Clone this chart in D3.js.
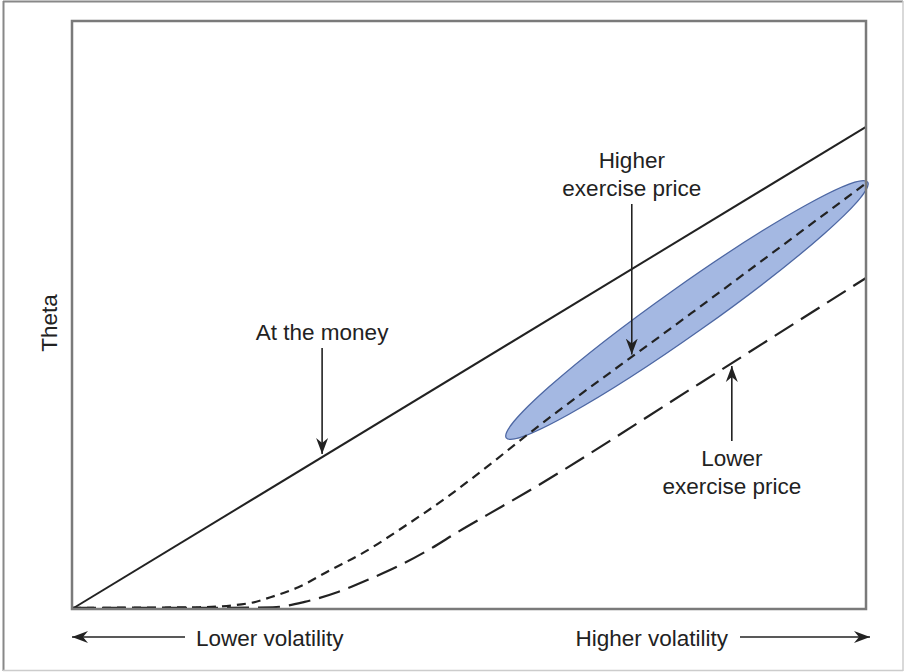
<!DOCTYPE html>
<html>
<head>
<meta charset="utf-8">
<script src="https://cdn.jsdelivr.net/npm/d3@7"></script>
<style>
  body { margin: 0; background: #fff; }
  text { font-family: "Liberation Sans", Arial, sans-serif; fill: #222; }
</style>
</head>
<body>
<div id="chart"></div>
<script>
// Volatility runs 0..100 left to right, theta 0..100 bottom to top (no numeric ticks)
const atmX = [0, 100];
const atmY = [0, 82];

const highX = [0, 16, 22.4, 25, 28.5, 32.5, 36.6, 41.7, 47.2, 53.5, 56, 78, 100];
const highY = [0.2, 0.3, 1.0, 2.0, 3.7, 6.6, 9.5, 13.9, 19.0, 25.5, 28.2, 50.3, 72.4];

const lowX = [0, 18.6, 25.3, 29.3, 33.5, 37.5, 41.4, 45.1, 48.6, 52.3, 57.3, 79.1, 100];
const lowY = [0.2, 0.2, 0.3, 1.2, 2.9, 5.1, 7.5, 10.2, 13.1, 16.0, 19.9, 38.4, 56.3];

// shaded region around the upper part of the higher exercise price curve
const highlightFrom = [54.9, 29.3];
const highlightTo = [100, 72.4];

// label, line it points at, x position of the arrow
const callouts = [
  { lines: ["At the money"], series: "atm", at: 31.5, dir: "down" },
  { lines: ["Higher", "exercise price"], series: "high", at: 70.5, dir: "down" },
  { lines: ["Lower", "exercise price"], series: "low", at: 83.1, dir: "up" }
];

const axisLabelY = "Theta";
const axisLabelsX = ["Lower volatility", "Higher volatility"];

const W = 905, H = 672;
const plot = { left: 72, top: 21, right: 866, bottom: 609 };

const svg = d3.select("#chart").append("svg")
    .attr("width", W)
    .attr("height", H);

// outer frame of the figure
svg.append("line").attr("x1", 3).attr("y1", 1.5).attr("x2", 903).attr("y2", 1.5)
    .attr("stroke", "#888").attr("stroke-width", 2);
svg.append("line").attr("x1", 3.5).attr("y1", 1).attr("x2", 3.5).attr("y2", 671)
    .attr("stroke", "#888").attr("stroke-width", 2);
svg.append("line").attr("x1", 903).attr("y1", 1).attr("x2", 903).attr("y2", 671)
    .attr("stroke", "#ccc").attr("stroke-width", 1.5);
svg.append("line").attr("x1", 3).attr("y1", 670.5).attr("x2", 903).attr("y2", 670.5)
    .attr("stroke", "#ccc").attr("stroke-width", 1.5);

const x = d3.scaleLinear().domain([0, 100]).range([plot.left, plot.right]);
const y = d3.scaleLinear().domain([0, 100]).range([plot.bottom, plot.top]);

const defs = svg.append("defs");
defs.append("marker")
    .attr("id", "head")
    .attr("viewBox", "-16 -7 18 14")
    .attr("refX", 0)
    .attr("refY", 0)
    .attr("markerWidth", 18)
    .attr("markerHeight", 14)
    .attr("markerUnits", "userSpaceOnUse")
    .attr("orient", "auto")
  .append("path")
    .attr("d", "M0,0 L-16,-6 L-11,0 L-16,6 Z")
    .attr("fill", "#222");

const zip = (xs, ys) => xs.map((v, i) => [v, ys[i]]);
const series = {
  atm: zip(atmX, atmY),
  high: zip(highX, highY),
  low: zip(lowX, lowY)
};

const line = d3.line()
    .x(d => x(d[0]))
    .y(d => y(d[1]))
    .curve(d3.curveMonotoneX);

// highlight ellipse
const p1 = [x(highlightFrom[0]), y(highlightFrom[1])];
const p2 = [x(highlightTo[0]), y(highlightTo[1])];
const ang = Math.atan2(p2[1] - p1[1], p2[0] - p1[0]) * 180 / Math.PI;
const half = Math.hypot(p2[0] - p1[0], p2[1] - p1[1]) / 2;
svg.append("ellipse")
    .attr("cx", 0).attr("cy", 0)
    .attr("rx", half + 2)
    .attr("ry", 24)
    .attr("transform", `translate(${(p1[0] + p2[0]) / 2},${(p1[1] + p2[1]) / 2}) rotate(${ang})`)
    .attr("fill", "#a4b8e2")
    .attr("stroke", "#4d67a3")
    .attr("stroke-width", 1.3);

// curves
svg.append("path")
    .datum(series.atm)
    .attr("fill", "none")
    .attr("stroke", "#222")
    .attr("stroke-width", 2)
    .attr("d", line);

svg.append("path")
    .datum(series.high)
    .attr("fill", "none")
    .attr("stroke", "#222")
    .attr("stroke-width", 2.2)
    .attr("stroke-dasharray", "9,6")
    .attr("d", line);

svg.append("path")
    .datum(series.low)
    .attr("fill", "none")
    .attr("stroke", "#222")
    .attr("stroke-width", 2.2)
    .attr("stroke-dasharray", "22,9")
    .attr("d", line);

// plot frame
svg.append("rect")
    .attr("x", plot.left)
    .attr("y", plot.top)
    .attr("width", plot.right - plot.left)
    .attr("height", plot.bottom - plot.top)
    .attr("fill", "none")
    .attr("stroke", "#7a7a7a")
    .attr("stroke-width", 2.5);

// value of a series at a given x (linear between the points)
function valueAt(pts, xv) {
  for (let i = 1; i < pts.length; i++) {
    if (xv <= pts[i][0]) {
      const t = (xv - pts[i - 1][0]) / (pts[i][0] - pts[i - 1][0]);
      return pts[i - 1][1] + t * (pts[i][1] - pts[i - 1][1]);
    }
  }
  return pts[pts.length - 1][1];
}

const fs = 22.5;
callouts.forEach(c => {
  const cx = x(c.at);
  const tipY = y(valueAt(series[c.series], c.at)) + (c.dir === "down" ? -3 : 3);
  let textTop, arrowStart;
  if (c.dir === "down") {
    textTop = c.lines.length === 1 ? 340 : 168;
    arrowStart = textTop + (c.lines.length - 1) * 28 + 8;
  } else {
    textTop = 466;
    arrowStart = textTop - 25;
  }
  svg.append("line")
      .attr("x1", cx).attr("y1", arrowStart)
      .attr("x2", cx).attr("y2", tipY)
      .attr("stroke", "#222")
      .attr("stroke-width", 1.6)
      .attr("marker-end", "url(#head)");
  c.lines.forEach((t, i) => {
    svg.append("text")
        .attr("x", cx)
        .attr("y", textTop + i * 28)
        .attr("text-anchor", "middle")
        .attr("font-size", fs)
        .text(t);
  });
});

// Theta label
svg.append("text")
    .attr("transform", `translate(57,${(plot.top + plot.bottom) / 2 + 8}) rotate(-90)`)
    .attr("text-anchor", "middle")
    .attr("font-size", fs)
    .text(axisLabelY);

// volatility labels with arrows
const labY = 646;
svg.append("text")
    .attr("x", 196).attr("y", labY)
    .attr("font-size", fs)
    .text(axisLabelsX[0]);
svg.append("text")
    .attr("x", 728).attr("y", labY)
    .attr("text-anchor", "end")
    .attr("font-size", fs)
    .text(axisLabelsX[1]);

svg.append("line")
    .attr("x1", 185).attr("y1", 637)
    .attr("x2", 72).attr("y2", 637)
    .attr("stroke", "#222").attr("stroke-width", 1.6)
    .attr("marker-end", "url(#head)");
svg.append("line")
    .attr("x1", 740).attr("y1", 637)
    .attr("x2", 870).attr("y2", 637)
    .attr("stroke", "#222").attr("stroke-width", 1.6)
    .attr("marker-end", "url(#head)");
</script>
</body>
</html>
